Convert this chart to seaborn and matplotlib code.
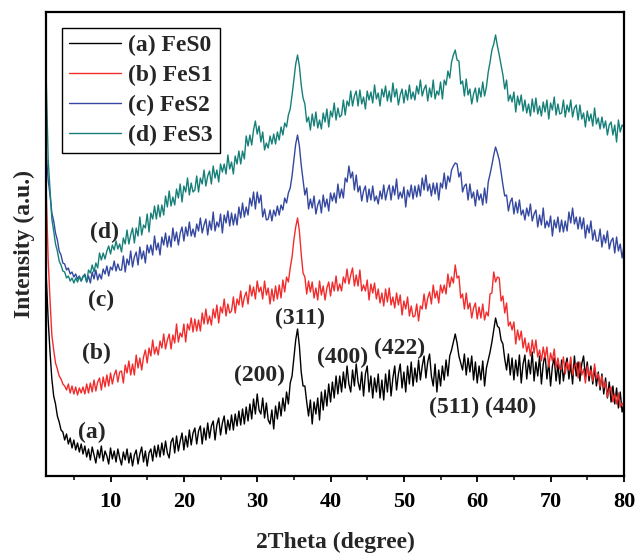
import numpy as np
import pandas as pd
import matplotlib
matplotlib.use("Agg")
import matplotlib.pyplot as plt
from matplotlib.ticker import MultipleLocator
import seaborn as sns

# 2-theta sampling grid (degrees): first point at 1.2, then 1.5 ... 80 in 0.25 steps
two_theta = np.concatenate([[1.2], np.arange(1.5, 80.001, 0.25)])

# Intensities (arbitrary units, already offset for stacking)
fes0 = [206,
        156, 124, 97, 80, 72, 60, 54, 46, 44, 36, 42, 32, 38, 28, 36, 26, 33, 24, 32, 22,
        30, 19, 27, 16, 29, 21, 13, 26, 18, 30, 15, 25, 20, 12, 28, 17, 25, 14, 27, 18,
        11, 24, 16, 27, 13, 23, 10, 21, 26, 12, 22, 29, 14, 25, 10, 23, 27, 15, 30, 19,
        31, 19, 33, 21, 35, 23, 18, 34, 38, 23, 40, 25, 35, 43, 26, 40, 29, 46, 31, 43,
        48, 32, 45, 50, 32, 48, 36, 53, 38, 50, 55, 36, 51, 58, 41, 53, 60, 42, 56, 46,
        61, 46, 62, 50, 65, 51, 67, 52, 69, 55, 72, 57, 77, 62, 82, 66, 62, 78, 58, 73,
        56, 52, 66, 47, 70, 57, 74, 60, 78, 65, 84, 72, 93, 100, 118, 136, 147, 130, 104, 90,
        90, 74, 60, 76, 52, 74, 62, 78, 56, 84, 66, 86, 70, 92, 74, 94, 78, 100, 82, 100,
        84, 104, 88, 110, 92, 84, 106, 90, 112, 94, 86, 104, 80, 102, 110, 84, 100, 78, 98, 84,
        102, 78, 96, 76, 102, 84, 106, 80, 98, 110, 86, 102, 112, 88, 104, 84, 110, 92, 114, 90,
        108, 94, 116, 96, 110, 120, 98, 114, 122, 100, 90, 112, 84, 106, 90, 110, 96, 116, 100, 120,
        126, 134, 142, 133, 120, 113, 106, 122, 101, 118, 104, 120, 96, 114, 93, 110, 96, 115, 90, 108,
        116, 124, 134, 146, 158, 150, 148, 136, 132, 117, 106, 122, 101, 118, 96, 116, 100, 121, 93, 112,
        121, 97, 116, 102, 124, 95, 114, 100, 120, 92, 112, 122, 97, 114, 90, 110, 118, 95, 112, 92,
        116, 95, 110, 118, 97, 112, 92, 120, 100, 114, 95, 112, 120, 99, 114, 95, 110, 92, 108, 90,
        104, 86, 102, 82, 98, 78, 94, 74, 90, 72, 88, 68, 84, 64, 72]

fes1 = [293,
        216, 176, 141, 126, 113, 107, 100, 97, 92, 90, 86, 92, 83, 90, 82, 89, 81, 88, 83, 89,
        82, 92, 83, 93, 84, 96, 85, 94, 98, 86, 99, 89, 101, 90, 103, 92, 101, 106, 94, 104,
        105, 93, 111, 103, 115, 101, 112, 101, 121, 108, 118, 106, 119, 126, 113, 128, 120, 136, 122, 129,
        121, 135, 128, 142, 127, 136, 142, 127, 141, 133, 152, 134, 143, 139, 152, 134, 152, 146, 158, 144,
        157, 145, 156, 145, 163, 152, 167, 152, 160, 151, 167, 158, 171, 153, 169, 163, 177, 160, 172, 163,
        165, 179, 163, 177, 171, 185, 169, 179, 184, 172, 191, 180, 189, 177, 195, 184, 189, 177, 195, 181,
        188, 172, 187, 175, 190, 177, 191, 178, 196, 184, 199, 194, 208, 219, 236, 249, 258, 245, 222, 203,
        199, 182, 195, 184, 194, 178, 188, 176, 195, 181, 190, 176, 188, 194, 180, 194, 185, 200, 185, 192,
        185, 199, 193, 207, 192, 201, 208, 190, 201, 190, 206, 185, 191, 185, 196, 176, 192, 183, 193, 177,
        187, 173, 183, 170, 187, 174, 188, 171, 179, 168, 183, 171, 181, 161, 175, 167, 179, 160, 170, 159,
        160, 172, 155, 170, 167, 182, 167, 178, 184, 172, 191, 178, 185, 173, 191, 183, 191, 182, 202, 189,
        199, 193, 211, 198, 200, 178, 182, 167, 183, 167, 173, 158, 168, 173, 157, 169, 158, 172, 156, 164,
        160, 182, 183, 204, 194, 199, 198, 175, 180, 163, 173, 150, 154, 146, 154, 132, 146, 136, 145, 128,
        138, 124, 133, 120, 136, 123, 136, 119, 126, 115, 129, 118, 129, 109, 123, 115, 127, 108, 118, 107,
        107, 119, 102, 114, 106, 119, 101, 109, 113, 98, 114, 101, 107, 93, 110, 100, 106, 95, 112, 97,
        102, 89, 100, 88, 94, 79, 87, 89, 74, 82, 72, 83, 69, 73, 70]

fes2 = [326,
        296, 281, 263, 255, 243, 236, 225, 221, 213, 212, 206, 208, 202, 204, 199, 202, 197, 200, 195, 199,
        202, 194, 200, 193, 204, 197, 206, 196, 202, 197, 207, 202, 210, 200, 209, 206, 215, 205, 212, 206,
        206, 220, 204, 217, 211, 225, 209, 219, 224, 211, 229, 217, 225, 213, 231, 223, 231, 221, 240, 226,
        233, 221, 239, 231, 243, 229, 240, 229, 248, 235, 244, 231, 243, 249, 235, 249, 240, 254, 240, 247,
        239, 252, 245, 258, 243, 251, 257, 241, 255, 246, 264, 245, 254, 249, 262, 243, 261, 253, 265, 250,
        263, 251, 262, 251, 269, 258, 273, 259, 269, 261, 278, 270, 284, 267, 284, 273, 281, 259, 267, 256,
        257, 266, 255, 266, 260, 270, 261, 271, 266, 278, 273, 283, 288, 300, 316, 332, 341, 330, 311, 296,
        281, 288, 267, 277, 268, 280, 262, 271, 276, 263, 281, 269, 277, 265, 283, 275, 283, 273, 292, 278,
        287, 278, 298, 294, 310, 298, 304, 286, 301, 284, 290, 275, 285, 290, 274, 287, 276, 290, 275, 280,
        272, 285, 277, 291, 276, 285, 291, 276, 290, 281, 297, 277, 284, 278, 289, 269, 286, 279, 291, 277,
        290, 279, 291, 280, 298, 286, 301, 285, 292, 280, 293, 282, 293, 276, 293, 288, 303, 287, 300, 294,
        306, 310, 313, 312, 299, 304, 284, 290, 292, 276, 292, 278, 284, 270, 286, 276, 282, 271, 288, 273,
        294, 302, 311, 321, 329, 323, 316, 304, 291, 280, 281, 265, 274, 278, 262, 274, 263, 276, 261, 266,
        256, 268, 260, 272, 255, 262, 266, 249, 261, 251, 268, 248, 255, 249, 260, 240, 256, 248, 259, 244,
        256, 244, 255, 245, 264, 253, 268, 252, 259, 247, 259, 247, 258, 238, 251, 243, 255, 236, 246, 235,
        235, 247, 229, 241, 233, 245, 227, 235, 238, 223, 239, 225, 232, 218, 230]

fes3 = [406,
        316, 286, 257, 245, 232, 225, 215, 211, 205, 204, 198, 200, 195, 198, 193, 198, 194, 199, 195, 200,
        200, 194, 206, 203, 211, 204, 213, 208, 223, 216, 223, 217, 225, 230, 222, 231, 226, 235, 227, 232,
        224, 238, 232, 246, 232, 241, 248, 233, 248, 240, 259, 241, 251, 248, 262, 244, 263, 257, 270, 257,
        271, 259, 271, 261, 280, 269, 285, 270, 279, 271, 287, 278, 292, 274, 290, 284, 298, 281, 293, 284,
        286, 300, 284, 298, 292, 306, 290, 300, 305, 292, 310, 298, 306, 294, 312, 304, 312, 302, 321, 307,
        314, 302, 320, 312, 325, 312, 325, 317, 340, 330, 341, 331, 346, 355, 342, 350, 334, 344, 326, 333,
        328, 340, 332, 342, 332, 344, 336, 349, 341, 353, 349, 361, 367, 381, 396, 412, 421, 410, 391, 378,
        372, 354, 359, 346, 362, 350, 364, 348, 356, 347, 363, 354, 367, 349, 365, 359, 373, 356, 368, 359,
        361, 376, 361, 375, 370, 385, 370, 380, 385, 370, 386, 372, 379, 367, 385, 376, 384, 373, 391, 377,
        383, 370, 387, 379, 390, 375, 385, 374, 393, 379, 387, 371, 381, 387, 373, 386, 376, 391, 377, 384,
        376, 390, 382, 396, 380, 387, 391, 375, 388, 379, 396, 377, 385, 381, 394, 377, 396, 391, 405, 398,
        414, 421, 426, 416, 415, 392, 395, 380, 397, 381, 387, 372, 382, 388, 374, 388, 379, 394, 380, 389,
        404, 414, 426, 432, 441, 430, 421, 411, 401, 387, 396, 375, 381, 374, 384, 364, 380, 371, 381, 365,
        376, 363, 372, 360, 377, 364, 378, 362, 370, 360, 374, 364, 376, 357, 373, 366, 379, 361, 372, 362,
        363, 376, 359, 371, 364, 376, 359, 368, 371, 356, 371, 357, 363, 349, 365, 355, 362, 350, 368, 352,
        358, 347, 359, 348, 355, 341, 351, 354, 341, 351, 334, 356, 344, 351, 349]

labels = ["(a) FeS0", "(b) FeS1", "(c) FeS2", "(d) FeS3"]
colors = ["#000000", "#f22c2c", "#3548a0", "#168078"]

# Curve tags and reflection indices with their positions
tags = ["(a)", "(b)", "(c)", "(d)"]
tag_x = [7.4, 8.1, 8.7, 9.2]
tag_y = [44, 123, 176, 244]
hkl = ["(200)", "(311)", "(400)", "(422)", "(511)", "(440)"]
hkl_x = [30.3, 35.8, 41.6, 49.4, 56.8, 64.6]
hkl_y = [101, 158, 119, 128, 69, 69]

series = [fes0, fes1, fes2, fes3]
for s in series:
    if len(s) != len(two_theta):
        raise ValueError(f"length mismatch: {len(s)} vs {len(two_theta)}")

df = pd.concat(
    [pd.DataFrame({"two_theta": two_theta, "intensity": vals, "sample": lab})
     for vals, lab in zip(series, labels)],
    ignore_index=True,
)

sns.set_theme(style="ticks")
plt.rcParams["font.family"] = ["Liberation Serif", "DejaVu Serif"]
plt.rcParams["font.weight"] = "bold"
plt.rcParams["axes.labelweight"] = "bold"

fig = plt.figure(figsize=(6.36, 5.56), dpi=100)
ax = fig.add_axes([0.0723, 0.1439, 0.9087, 0.8345])

sns.lineplot(data=df, x="two_theta", y="intensity", hue="sample",
             hue_order=labels, palette=colors, estimator=None, sort=False,
             linewidth=1.0, ax=ax)

ax.set_xlim(1.2, 80)
ax.set_ylim(0, 464)
ax.set_yticks([])
ax.xaxis.set_major_locator(MultipleLocator(10))
ax.xaxis.set_minor_locator(MultipleLocator(5))
ax.tick_params(axis="x", which="major", direction="out", length=4.5, width=1.3,
               labelsize=16, pad=7, colors="black")
ax.tick_params(axis="x", which="minor", direction="out", length=3, width=1.3)
for lbl in ax.get_xticklabels():
    lbl.set_fontweight("bold")
for sp in ax.spines.values():
    sp.set_visible(True)
    sp.set_linewidth(1.6)
    sp.set_color("black")

ax.set_xlabel("2Theta (degree)", fontsize=17, fontweight="bold", labelpad=14)
ax.set_ylabel("Intensity (a.u.)", fontsize=17, fontweight="bold", labelpad=8)

for t, x, y in zip(tags, tag_x, tag_y):
    ax.text(x, y, t, fontsize=17, fontweight="bold", ha="center", va="center")
for t, x, y in zip(hkl, hkl_x, hkl_y):
    ax.text(x, y, t, fontsize=17, fontweight="bold", ha="center", va="center")

leg = ax.legend(loc="upper left", bbox_to_anchor=(0.028, 0.966), borderaxespad=0,
                frameon=True, fancybox=False, framealpha=1, edgecolor="black",
                prop={"size": 17, "weight": "bold"}, handlelength=2.2,
                labelspacing=0.35, borderpad=0.3, handletextpad=0.3)
leg.get_frame().set_linewidth(1.0)
for line in leg.get_lines():
    line.set_linewidth(1.0)

fig.savefig("out.png", dpi=100)
